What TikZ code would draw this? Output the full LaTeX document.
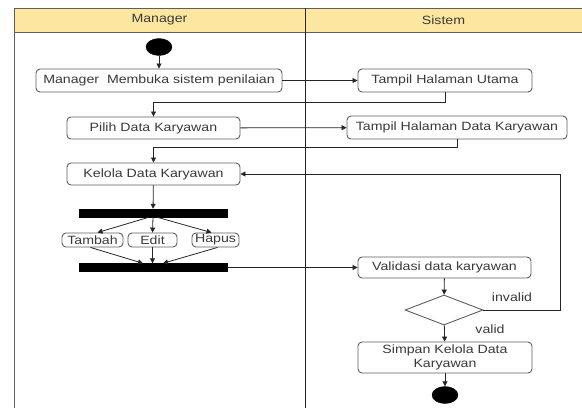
\documentclass[tikz,border=0pt]{standalone}
\usepackage{fontspec}
\setmainfont{Liberation Sans}[FakeStretch=1.18]
\usetikzlibrary{arrows.meta,shapes.geometric}
\definecolor{laneyellow}{HTML}{FDE6A0}
\definecolor{boxline}{HTML}{5E5E5E}
\definecolor{inkgray}{HTML}{3A3A3A}
\definecolor{wire}{HTML}{262626}
\tikzset{
  actbox/.style={draw=boxline, line width=0.9pt, rounded corners=4pt, fill=white,
    inner sep=0pt, text=inkgray, font=\fontsize{12}{13.5}\selectfont, align=center},
  bar/.style={fill=black, draw=black, inner sep=0pt, minimum width=148pt, minimum height=8pt},
  dot/.style={ellipse, fill=black, draw=black, inner sep=0pt, minimum width=26pt, minimum height=17pt},
  choice/.style={diamond, draw=boxline, line width=0.9pt, fill=white, inner sep=0pt,
    minimum width=78pt, minimum height=30pt, aspect=2.6},
  flow/.style={draw=wire, line width=0.8pt, -{Triangle[length=5pt,width=5pt]}},
  plain/.style={draw=wire, line width=0.8pt},
  lbl/.style={text=inkgray, font=\fontsize{12}{13.5}\selectfont, inner sep=0pt},
}
\begin{document}
\begin{tikzpicture}[x=1pt,y=-1pt]
\useasboundingbox (0,0) rectangle (582,408);

% swimlane frame and headers
\fill[laneyellow] (14,8) rectangle (582,32);
\draw[boxline, line width=0.9pt] (582,8) -- (14,8) -- (14,408);
\draw[boxline, line width=0.9pt] (14,32) -- (582,32);
\draw[wire, line width=0.9pt] (305,8) -- (305,408);
\node[lbl] (hmgr) at (159.5,20) {Manager};
\node[lbl] (hsys) at (443.5,20) {Sistem};

% Manager lane
\node[dot] (start) at (159,47) {};
\node[actbox, minimum width=246pt, minimum height=23pt] (open) at (159,80.5) {Manager\ \ Membuka sistem penilaian};
\node[actbox, minimum width=173pt, minimum height=22pt] (pick) at (153.5,128) {Pilih Data Karyawan};
\node[actbox, minimum width=173pt, minimum height=22pt] (manage) at (153.5,174) {Kelola Data Karyawan};
\node[bar] (fork) at (153,213) {};
\node[actbox, minimum width=61pt, minimum height=14pt] (add) at (92.5,240) {Tambah};
\node[actbox, minimum width=49pt, minimum height=14pt] (edit) at (152.5,240) {Edit};
\node[actbox, minimum width=47pt, minimum height=14pt] (del) at (215.5,240) {Hapus};
\node[bar] (join) at (153,267.5) {};

% Sistem lane
\node[actbox, minimum width=174pt, minimum height=23pt] (home) at (445,80.5) {Tampil Halaman Utama};
\node[actbox, minimum width=220pt, minimum height=23pt] (list) at (457,127.5) {Tampil Halaman Data Karyawan};
\node[actbox, minimum width=173pt, minimum height=21pt] (check) at (444.5,267.5) {Validasi data karyawan};
\node[choice] (valid) at (444,310) {};
\node[actbox, minimum width=174pt, minimum height=31pt] (save) at (445,357.5) {Simpan Kelola Data\\Karyawan};
\node[dot] (stop) at (445,395) {};
\node[lbl] (tinvalid) at (512,297) {invalid};
\node[lbl] (tvalid) at (490,329) {valid};

% connectors
\draw[flow] (start) -- (open);
\draw[flow] (open) -- (home);
\draw[flow] (home.south) -- ++(0,10) -| (pick.north);
\draw[flow] (pick) -- (list);
\draw[flow] (list.south) -- ++(0,8) -| (manage.north);
\draw[flow] (manage) -- (fork);
\draw[flow] ([xshift=-4pt]fork.south) -- ([xshift=5pt]add.north);
\draw[flow] (fork.south) -- (edit.north);
\draw[flow] ([xshift=4pt]fork.south) -- ([xshift=-4pt]del.north);
\draw[flow] ([xshift=-2pt]add.south) -- ([xshift=-10pt]join.north);
\draw[flow] (edit.south) -- (join.north -| edit.south);
\draw[flow] ([xshift=2pt]del.south) -- ([xshift=10pt]join.north);
\draw[flow] (join.east) -- (check.west);
\draw[flow] (check) -- (valid);
\draw[flow] (valid) -- (save);
\draw[flow] (save) -- (stop);
\draw[flow] (valid.east) -- (560,310) |- (manage.east);
\end{tikzpicture}
\end{document}
